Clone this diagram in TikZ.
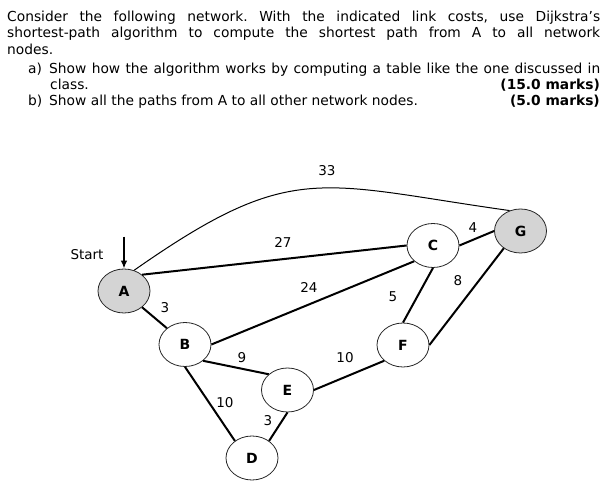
\documentclass[tikz,border=0pt]{standalone}
\usepackage{fontspec}
\setmainfont{DejaVu Sans}
\usetikzlibrary{arrows.meta,positioning,shapes.geometric}
\tikzset{
  hop/.style={draw=black!85,ellipse,fill=white,minimum width=52pt,minimum height=44pt,
              inner sep=0pt,line width=0.8pt,font=\bfseries\fontsize{14}{16}\selectfont},
  hopg/.style={hop,fill=black!17},
  link/.style={line width=2pt},
  ivlink/.style={line width=1pt},
  cost/.style={inner sep=0pt,font=\fontsize{13.5}{15}\selectfont},
  sor/.style={anchor=base west,inner sep=0pt,font=\fontsize{13.8}{16}\selectfont},
  pont/.style={anchor=base east,inner sep=0pt,font=\bfseries\fontsize{13.8}{16}\selectfont},
  nyil/.style={-{Latex[length=8pt,width=6.5pt]},line width=1.7pt},
}
\begin{document}
\frenchspacing
\begin{tikzpicture}[x=1pt,y=1pt]
  \useasboundingbox (0,0) rectangle (608,487);
  % question text
  \node[sor] (l1) at (7,465.3) {\makebox[593pt][s]{Consider the following network. With the indicated link costs, use Dijkstra’s}};
  \node[sor] (l2) at (7,449.7) {\makebox[593pt][s]{shortest-path algorithm to compute the shortest path from A to all network}};
  \node[sor] (l3) at (7,432) {nodes.};
  \node[sor] (qa) at (28,413) {a)};
  \node[sor] (l4) at (49,413) {\makebox[551pt][s]{Show how the algorithm works by computing a table like the one discussed in}};
  \node[sor] (l5) at (50,397) {class.};
  \node[pont] (ma) at (600,397) {(15.0 marks)};
  \node[sor] (qb) at (28,381) {b)};
  \node[sor] (l6) at (49,381) {Show all the paths from A to all other network nodes.};
  \node[pont] (mb) at (600,381) {(5.0 marks)};

  % routers
  \node[hopg] (A) at (124,196) {A};
  \node[hop] (B) at (185,142.5) {B};
  \node[hop] (C) at (433,241.5) {C};
  \node[hop] (D) at (252,29) {D};
  \node[hop] (E) at (287.5,97) {E};
  \node[hop] (F) at (403,142) {F};
  \node[hopg] (G) at (520.5,256) {G};

  % links
  \draw[link] (A.-42) -- (B.138);
  \draw[link] (A.42) -- (C.west);
  \draw[link] (B.east) -- (C.220);
  \draw[link] (B.-42) -- (E.140);
  \draw[link] (B.south) -- (D.135);
  \draw[link] (E.south) -- (D.45);
  \draw[link] (E.east) -- (F.220);
  \draw[link] (C.south) -- (F.north);
  \draw[link] (C.east) -- (G.west);
  \draw[link] (F.east) -- (G.226);
  \draw[ivlink] (A.64) to[out=35,in=172,looseness=1.3] (G.118);

  % costs
  \node[cost] (c33) at (327,316) {33};
  \node[cost] (c27) at (283,245) {27};
  \node[cost] (c24) at (309,200) {24};
  \node[cost] (cab) at (165,179) {3};
  \node[cost] (cbe) at (242,129) {9};
  \node[cost] (cbd) at (225,84) {10};
  \node[cost] (ced) at (268,66) {3};
  \node[cost] (cef) at (345,129) {10};
  \node[cost] (ccf) at (393,190) {5};
  \node[cost] (cfg) at (458,206) {8};
  \node[cost] (ccg) at (473,259) {4};

  % start marker
  \node[cost] (start) at (87,232) {Start};
  \coordinate[above=32pt of A.north] (s0);
  \draw[nyil] (s0) -- (A.north);
\end{tikzpicture}
\end{document}
